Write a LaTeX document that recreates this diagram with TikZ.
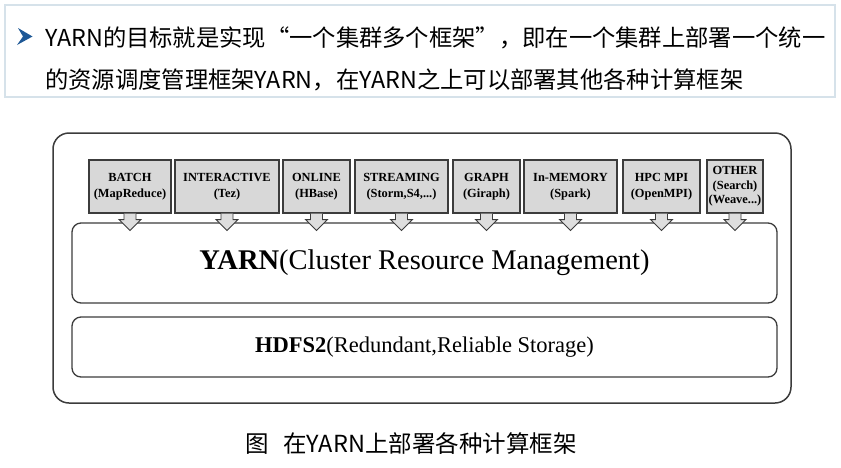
\documentclass[tikz,border=0pt]{standalone}
\usepackage{fontspec}
\setmainfont{Liberation Serif}
\newfontfamily\cjk{Noto Sans CJK SC}
\definecolor{framegray}{RGB}{60,60,60}
\definecolor{boxgray}{RGB}{216,216,216}
\definecolor{arrowgray}{RGB}{222,222,222}
\definecolor{topframe}{RGB}{214,226,234}
\definecolor{bulletblue}{RGB}{30,88,150}
\tikzset{
  appbox/.style={draw=framegray, fill=boxgray, line width=1.1pt, rectangle,
    minimum height=53pt, inner sep=0pt, align=center,
    font=\bfseries\fontsize{12.4}{16}\selectfont},
  layerbox/.style={draw=framegray, line width=1.3pt, rounded corners=9pt, inner sep=0pt},
  blockarrow/.style={draw=framegray, fill=arrowgray, line width=0.9pt, line join=miter},
  cjktext/.style={font=\cjk\fontsize{23.3}{23.3}\selectfont, inner sep=0pt}
}
\begin{document}
\begin{tikzpicture}[x=1pt,y=-1pt]
\useasboundingbox[fill=white] (0,0) rectangle (841,467);
% top text panel
\draw[topframe, line width=1.6pt] (5,5) rectangle (835,97);
\fill[bulletblue] (18,28) -- (32.5,36.5) -- (17,45) -- (23,36.5) -- cycle;
\node[cjktext, anchor=base west] (line1) at (45,46) {YARN的目标就是实现“一个集群多个框架”，即在一个集群上部署一个统一};
\node[cjktext, anchor=base west] (line2) at (45,88) {的资源调度管理框架YARN，在YARN之上可以部署其他各种计算框架};
% outer frame
\draw[framegray, line width=1.5pt, rounded corners=16pt] (53,133) rectangle (791,403);
% layers
\node[layerbox, minimum width=705pt, minimum height=80pt] (yarn) at (424.5,263)
  {\fontsize{28.5}{30}\selectfont\textbf{YARN}(Cluster Resource Management)};
\node[layerbox, minimum width=705pt, minimum height=60pt] (hdfs) at (424.5,347)
  {\fontsize{22.5}{24}\selectfont\textbf{HDFS2}(Redundant,Reliable Storage)};
% application boxes
\node[appbox, minimum width=82pt]  (batch) at (130,186.5) {BATCH\\(MapReduce)};
\node[appbox, minimum width=104pt] (inter) at (227,186.5) {INTERACTIVE\\(Tez)};
\node[appbox, minimum width=67pt]  (online) at (316.5,186.5) {ONLINE\\(HBase)};
\node[appbox, minimum width=93pt]  (stream) at (401.5,186.5) {STREAMING\\(Storm,S4,...)};
\node[appbox, minimum width=67pt]  (graph) at (486.5,186.5) {GRAPH\\(Giraph)};
\node[appbox, minimum width=93pt]  (memory) at (570.5,186.5) {In-MEMORY\\(Spark)};
\node[appbox, minimum width=77pt]  (hpc) at (661.5,186.5) {HPC MPI\\(OpenMPI)};
\node[appbox, minimum width=56pt, font=\bfseries\fontsize{12.4}{14.5}\selectfont] (other) at (735,186.5) {OTHER\\(Search)\\(Weave...)};
% block arrows into YARN
\foreach \n in {batch,inter,online,stream,graph,memory,hpc,other}{
  \draw[blockarrow] (\n.south) ++(-6,0) -- ++(0,6) -- ++(-5,0) -- ++(11,11)
     -- ++(11,-11) -- ++(-5,0) -- ++(0,-6);
}
% caption
\node[cjktext, font=\cjk\fontsize{23.5}{23.5}\selectfont, anchor=base west] (cap) at (245,452) {图\hspace{14.5pt}在YARN上部署各种计算框架};
\end{tikzpicture}
\end{document}
